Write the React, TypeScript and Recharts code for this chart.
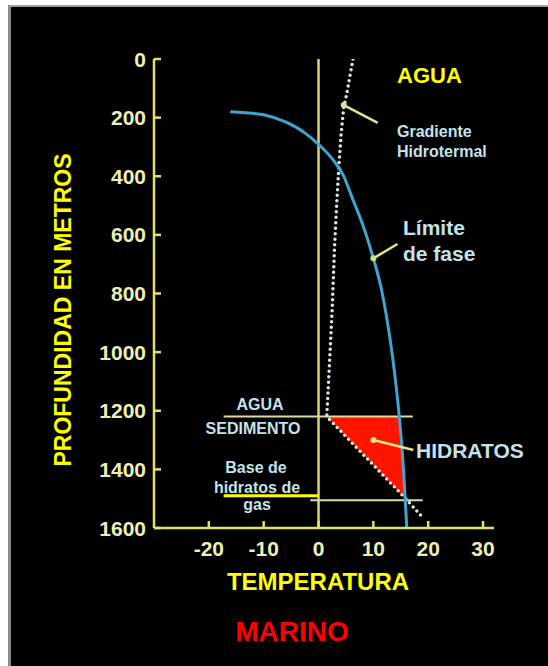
import {
  ComposedChart,
  Line,
  XAxis,
  YAxis,
  ReferenceLine,
  ReferenceArea,
  ReferenceDot,
} from 'recharts';

// ticks
const TEMP_TICKS = [-20, -10, 0, 10, 20, 30];
const DEPTH_TICKS = [0, 200, 400, 600, 800, 1000, 1200, 1400, 1600];

// limite de fase (temperatura °C, profundidad m)
const PHASE_TEMP = [-16.1, -13.4, -9.8, -6.1, -2.5, 0.1, 2.7, 4.5, 6.3, 8.2, 10.0, 11.5, 12.7, 13.5, 14.7, 15.5, 16.1];
const PHASE_DEPTH = [180, 183, 191, 214, 252, 293, 345, 396, 481, 572, 680, 788, 913, 1016, 1215, 1400, 1600];

// gradiente hidrotermal (agua + sedimento)
const GRAD_TEMP = [6.3, 5.7, 5.2, 4.6, 4.1, 3.7, 3.3, 2.9, 2.5, 2.1, 1.7, 1.5, 15.9, 18.8];
const GRAD_DEPTH = [0, 60, 115, 165, 260, 370, 500, 650, 850, 1000, 1150, 1220, 1500, 1560];

const SEAFLOOR = 1220;
const HYDRATE_BASE = 1500;
// zona de hidratos: vertice izq., vertice der. (fondo), vertice inferior
const HYDRATE_TEMPS = [1.5, 14.8, 15.9];

const BG = '#000';
const AXIS = '#e2e26a';
const TICK = '#efefb2';
const ZERO_LINE = '#d6d676';
const PHASE = '#3fa4cf';
const GRADIENT = '#dde8dc';
const HYDRATE = '#ff1400';
const LABEL_BLUE = '#c4e2ea';
const YELLOW = '#ffff00';
const ARROW = '#e4e488';
const FONT = '"Liberation Sans", Arial, sans-serif';

const phaseData = PHASE_TEMP.map((t, i) => ({ t, d: PHASE_DEPTH[i] }));
const gradData = GRAD_TEMP.map((t, i) => ({ t, d: GRAD_DEPTH[i] }));

function DepthTick(props: any) {
  const { x, y, payload } = props;
  return (
    <g>
      <text
        x={x}
        y={y}
        dy="0.36em"
        textAnchor="end"
        fill={TICK}
        fontSize={21}
        fontWeight="bold"
        fontFamily={FONT}
      >
        {payload.value}
      </text>
      <line x1={x + 8} x2={x + 15} y1={y} y2={y} stroke={AXIS} strokeWidth={2.5} />
    </g>
  );
}

function TempTick(props: any) {
  const { x, y, payload } = props;
  return (
    <g>
      <line x1={x} x2={x} y1={y - 12} y2={y - 19} stroke={AXIS} strokeWidth={2.5} />
      <text
        x={x}
        y={y}
        dy="0.74em"
        textAnchor="middle"
        fill={TICK}
        fontSize={21}
        fontWeight="bold"
        fontFamily={FONT}
      >
        {payload.value}
      </text>
    </g>
  );
}

function HydrateShape(props: any) {
  const { x, y, width, height } = props;
  const [t0, t1, t2] = HYDRATE_TEMPS;
  const xr = x + (width * (t1 - t0)) / (t2 - t0);
  return (
    <polygon
      points={`${x},${y} ${xr},${y} ${x + width},${y + height}`}
      fill={HYDRATE}
      stroke="none"
    />
  );
}

export default function App() {
  return (
    <div style={{ position: 'relative', width: 548, height: 666, overflow: 'hidden', background: '#fff' }}>
      <style>{`html,body{margin:0;overflow:hidden;background:#fff}`}</style>
      <div
        style={{
          position: 'absolute',
          left: 8,
          top: 5,
          right: 0,
          bottom: 0,
          background: BG,
          borderLeft: '3px solid #8a8a8a',
          borderTop: '2px solid #a0a0a0',
        }}
      />
      <div style={{ position: 'absolute', left: 0, top: 0 }}>
        <ComposedChart
          width={548}
          height={666}
          margin={{ top: 59, right: 54, bottom: 98, left: 0 }}
        >
          <XAxis
            type="number"
            dataKey="t"
            domain={[-30, 32]}
            ticks={TEMP_TICKS}
            allowDataOverflow
            height={40}
            tickSize={0}
            tickMargin={12}
            tick={<TempTick />}
            axisLine={{ stroke: AXIS, strokeWidth: 2.5 }}
          />
          <YAxis
            type="number"
            domain={[0, 1600]}
            reversed
            ticks={DEPTH_TICKS}
            allowDataOverflow
            width={154}
            tickSize={0}
            tickMargin={8}
            tick={<DepthTick />}
            axisLine={{ stroke: AXIS, strokeWidth: 2.5 }}
          />
          <ReferenceArea
            x1={HYDRATE_TEMPS[0]}
            x2={HYDRATE_TEMPS[2]}
            y1={SEAFLOOR}
            y2={HYDRATE_BASE}
            shape={<HydrateShape />}
          />
          <ReferenceLine
            segment={[{ x: 0, y: 0 }, { x: 0, y: 1600 }]}
            stroke={ZERO_LINE}
            strokeWidth={2.5}
          />
          <ReferenceLine
            segment={[{ x: -17.3, y: SEAFLOOR }, { x: 17.2, y: SEAFLOOR }]}
            stroke="#dcdc9c"
            strokeWidth={2}
          />
          <ReferenceLine
            segment={[{ x: -1.5, y: HYDRATE_BASE + 5 }, { x: 19, y: HYDRATE_BASE + 5 }]}
            stroke="#dcdc9c"
            strokeWidth={2}
          />
          <ReferenceLine
            segment={[{ x: -17.3, y: HYDRATE_BASE - 10 }, { x: 0, y: HYDRATE_BASE - 10 }]}
            stroke={YELLOW}
            strokeWidth={3}
          />
          <Line
            data={gradData}
            dataKey="d"
            type="linear"
            stroke={GRADIENT}
            strokeWidth={3.5}
            strokeDasharray="0 5.5"
            strokeLinecap="round"
            dot={false}
            isAnimationActive={false}
          />
          <Line
            data={phaseData}
            dataKey="d"
            type="monotone"
            stroke={PHASE}
            strokeWidth={3}
            dot={false}
            isAnimationActive={false}
          />
          {/* flechas */}
          <ReferenceLine segment={[{ x: 4.6, y: 157 }, { x: 10.8, y: 218 }]} stroke={ARROW} strokeWidth={2.5} />
          <ReferenceDot x={4.6} y={157} r={3} fill={ARROW} stroke="none" />
          <ReferenceLine segment={[{ x: 10, y: 680 }, { x: 14.4, y: 631 }]} stroke={ARROW} strokeWidth={2.5} />
          <ReferenceDot x={10} y={680} r={3} fill="#b8f07a" stroke="none" />
          <ReferenceLine segment={[{ x: 10, y: 1300 }, { x: 17.3, y: 1334 }]} stroke={ARROW} strokeWidth={2.5} />
          <ReferenceDot x={10} y={1300} r={3} fill={ARROW} stroke="none" />
        </ComposedChart>
      </div>
      <svg
        width={548}
        height={666}
        style={{ position: 'absolute', left: 0, top: 0, pointerEvents: 'none' }}
        fontFamily={FONT}
        fontWeight="bold"
      >
        <text x={397} y={83} fill={YELLOW} fontSize={22}>AGUA</text>
        <text x={397} y={137} fill={LABEL_BLUE} fontSize={16}>Gradiente</text>
        <text x={397} y={157} fill={LABEL_BLUE} fontSize={16}>Hidrotermal</text>
        <text x={403} y={235} fill={LABEL_BLUE} fontSize={21}>Límite</text>
        <text x={403} y={261} fill={LABEL_BLUE} fontSize={21}>de fase</text>
        <text x={416} y={458} fill={LABEL_BLUE} fontSize={21}>HIDRATOS</text>
        <text x={260} y={410} fill={LABEL_BLUE} fontSize={16} textAnchor="middle">AGUA</text>
        <text x={253} y={434} fill={LABEL_BLUE} fontSize={16} textAnchor="middle">SEDIMENTO</text>
        <text x={256} y={473} fill={LABEL_BLUE} fontSize={16} textAnchor="middle">Base de</text>
        <text x={257} y={493} fill={LABEL_BLUE} fontSize={16} textAnchor="middle">hidratos de</text>
        <text x={257} y={510} fill={LABEL_BLUE} fontSize={16} textAnchor="middle">gas</text>
        <text x={318} y={590} fill={YELLOW} fontSize={24} textAnchor="middle">TEMPERATURA</text>
        <text x={292} y={641} fill="#ff0000" fontSize={28} textAnchor="middle">MARINO</text>
        <text
          transform="translate(71,310) rotate(-90)"
          fill={YELLOW}
          fontSize={23}
          textAnchor="middle"
        >
          PROFUNDIDAD EN METROS
        </text>
      </svg>
    </div>
  );
}
